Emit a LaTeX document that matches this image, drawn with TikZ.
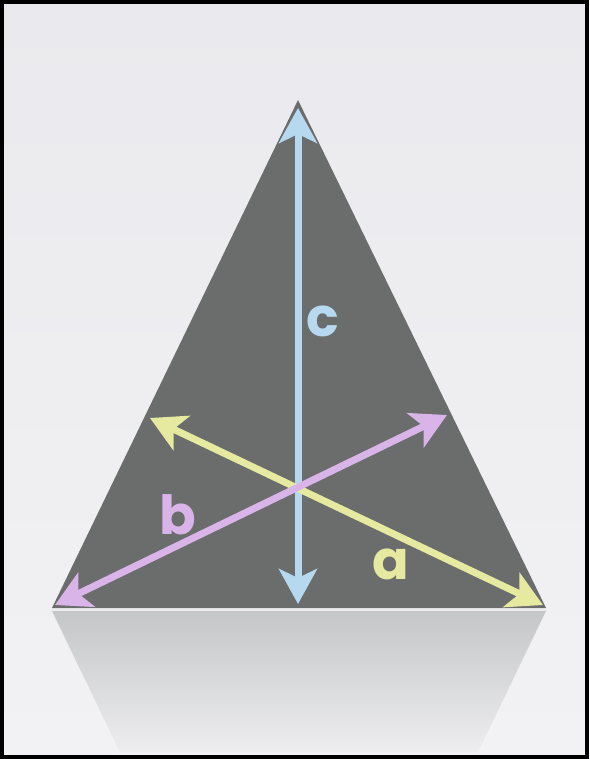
\documentclass[tikz,border=0pt]{standalone}
\usepackage{fontspec}
\newfontfamily\labfont{Poppins}
\usetikzlibrary{arrows.meta}
\definecolor{bgtop}{HTML}{EAEAEE}
\definecolor{bgbot}{HTML}{F2F2F4}
\definecolor{tri}{HTML}{6A6D6C}
\definecolor{refltop}{HTML}{C5C6C8}
\definecolor{reflmid}{HTML}{DCDDDF}
\definecolor{reflbot}{HTML}{EDEDF0}
\definecolor{cblue}{HTML}{B6D9EF}
\definecolor{ayellow}{HTML}{E6E9A0}
\definecolor{bpurple}{HTML}{D9B4E8}
\tikzset{
  dimarrow/.style={line width=7pt, {Stealth[length=35pt,width=38pt,inset=9pt]}-{Stealth[length=35pt,width=38pt,inset=9pt]}},
  lab/.style={font=\labfont\bfseries\fontsize{54}{54}\selectfont, inner sep=0pt, anchor=base}
}
\begin{document}
\begin{tikzpicture}[x=1pt,y=-1pt]
\useasboundingbox (0,0) rectangle (589,759);
% background
\shade[top color=bgtop, bottom color=bgbot] (0,0) rectangle (589,759);
% reflection
\shade[top color=refltop, middle color=reflmid, bottom color=reflbot] (52,611) -- (546,611) -- (478,752) -- (120,752) -- cycle;
\draw[line width=1.5pt, color=white!85!gray] (52,610) -- (546,610);
% triangle
\coordinate (apex) at (298,100);
\coordinate (bl) at (52,608);
\coordinate (br) at (546,608);
\fill[tri] (apex) -- (bl) -- (br) -- cycle;
% arrow end points
\coordinate (ctop) at (298,108);
\coordinate (cbot) at (298,604);
\coordinate (aleft) at (150,418);
\coordinate (aright) at (543,605);
\coordinate (bleft) at (55,605);
\coordinate (bright) at (447,415);
\draw[dimarrow, draw=cblue, fill=cblue] (cbot) -- (ctop);
\draw[dimarrow, draw=ayellow, fill=ayellow] (aleft) -- (aright);
\draw[dimarrow, draw=bpurple, fill=bpurple] (bleft) -- (bright);
% labels
\node[lab, text=cblue] (lc) at (323,336) {c};
\node[lab, text=bpurple] (lb) at (178,534) {b};
\node[lab, text=ayellow] (la) at (391,579) {a};
% frame
\draw[line width=4pt, black] (2,2) rectangle (587,757);
\end{tikzpicture}
\end{document}
